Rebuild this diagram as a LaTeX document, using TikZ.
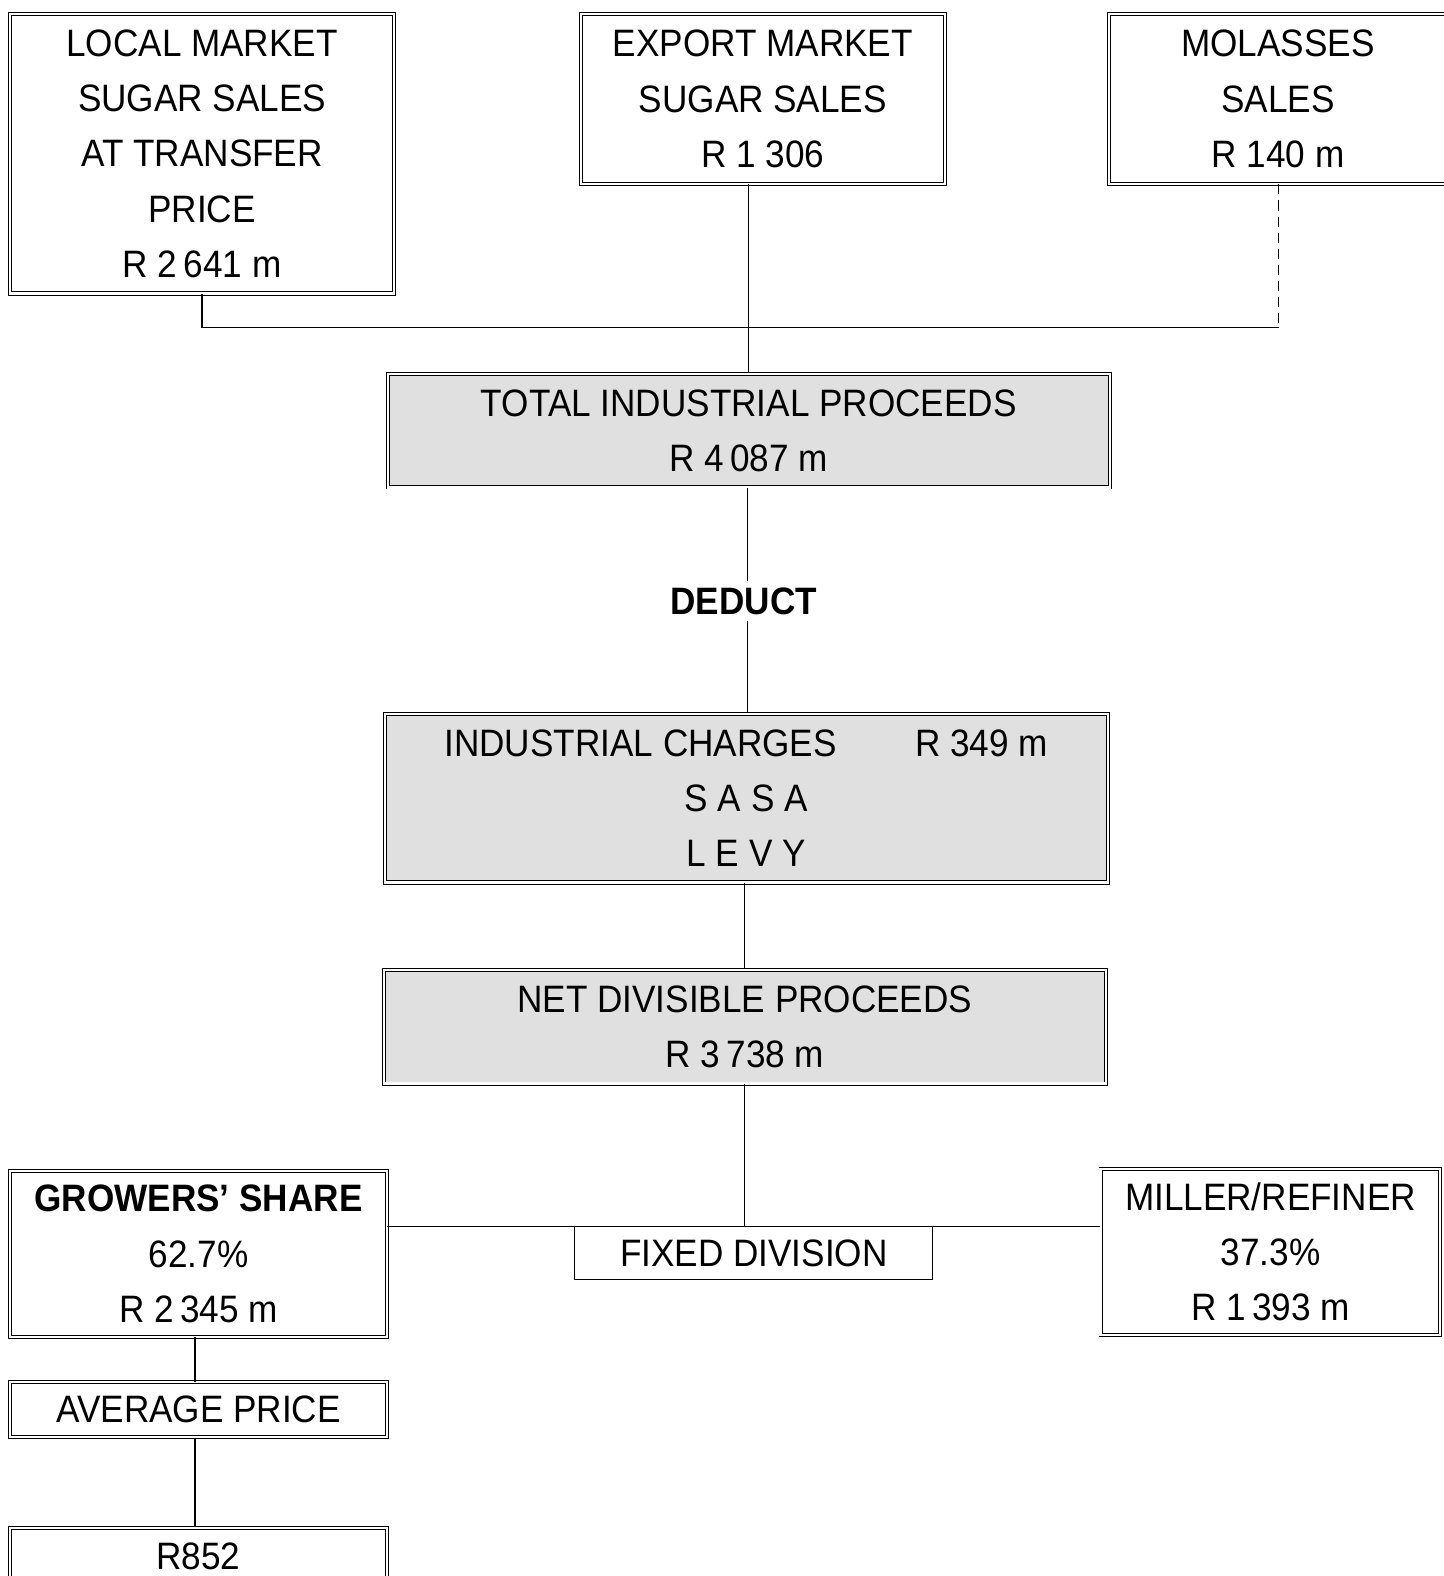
\documentclass[tikz,border=0pt]{standalone}
\usepackage{fontspec}
\setmainfont[FakeStretch=0.92]{Liberation Sans}
\newcommand\bigf{\fontsize{38}{55}\selectfont}
\begin{document}
\begin{tikzpicture}[x=1pt,y=-1pt,
  box/.style={draw, double, double distance=2.2pt, line width=0.9pt, align=center, inner sep=0pt, font=\bigf},
  shadebox/.style={box, fill=black!12},
  conn/.style={line width=1.3pt},
  lbl/.style={font=\bigf\bfseries, inner sep=6pt}]
\useasboundingbox (0,0) rectangle (1436,1568);

\node[box, minimum width=382pt, minimum height=278pt] (local) at (201,153)
  {LOCAL MARKET\\SUGAR SALES\\AT TRANSFER\\PRICE\\R 2\,641 m};
\node[box, minimum width=362pt, minimum height=169pt] (export) at (759,98.5)
  {EXPORT MARKET\\SUGAR SALES\\R 1 306};
\node[box, minimum width=337pt, minimum height=169pt] (molasses) at (1271.5,98.5)
  {MOLASSES\\SALES\\R 140 m};

\node[shadebox, minimum width=718pt, minimum height=113pt] (total) at (745,428.5)
  {TOTAL INDUSTRIAL PROCEEDS\\R 4\,087 m};
\node[lbl] (deduct) at (740,598) {DEDUCT};
\node[shadebox, minimum width=719pt, minimum height=168pt] (charges) at (742.5,794)
  {INDUSTRIAL CHARGES\hspace{78pt}R 349 m\\S A S A\\L E V Y};
\node[shadebox, minimum width=718pt, minimum height=113pt] (net) at (741,1021.5)
  {NET DIVISIBLE PROCEEDS\\R 3\,738 m};

\node[box, minimum width=375pt, minimum height=165pt] (growers) at (197.5,1247.5)
  {\textbf{GROWERS’ SHARE}\\62.7\%\\R 2\,345 m};
\node[box, minimum width=338pt, minimum height=165pt] (miller) at (1264,1245.5)
  {MILLER/REFINER\\37.3\%\\R 1\,393 m};
\node[draw, line width=0.9pt, minimum width=356pt, minimum height=53pt, inner sep=0pt, font=\bigf] (fixed) at (750,1246.5)
  {FIXED DIVISION};

\node[box, minimum width=375pt, minimum height=55pt] (average) at (197.5,1402.5)
  {AVERAGE PRICE};
\node[box, minimum width=375pt, minimum height=60pt, text depth=0pt] (r852) at (197.5,1550)
  {\raisebox{4pt}{R852}};

% connectors
\coordinate (busL) at (201,326);
\coordinate (busR) at (1272,326);
\draw[conn] (local.south) -- (busL) -- (busR);
\draw[conn, dashed, dash pattern=on 10pt off 6pt] (molasses.south -| busR) -- (busR);
\draw[conn] (total.north |- export.south) -- (total.north);
\coordinate (dx) at (744,0);
\draw[conn] (total.south -| dx) -- (deduct.north -| dx);
\draw[conn] (deduct.south -| dx) -- (charges.north -| dx);
\draw[conn] (charges.south -| net.north) -- (net.north);
\coordinate (split) at (741,1220);
\draw[conn] (net.south) -- (split);
\draw[conn] (growers.east |- split) -- (miller.west |- split);
\coordinate (gx) at (194,0);
\draw[conn] (growers.south -| gx) -- (average.north -| gx);
\draw[conn] (average.south -| gx) -- (r852.north -| gx);
\end{tikzpicture}
\end{document}
